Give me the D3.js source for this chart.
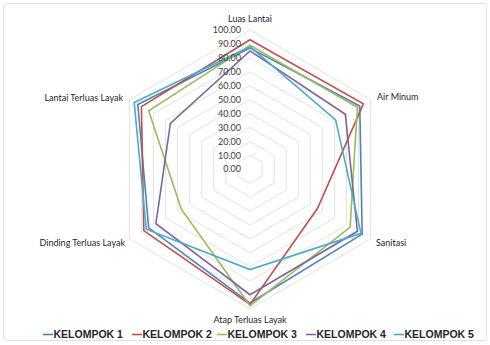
<!DOCTYPE html>
<html>
<head>
<meta charset="utf-8">
<script src="https://cdn.jsdelivr.net/npm/d3@7"></script>
<style>
  html, body { margin: 0; padding: 0; background: #fff; }
  svg { display: block; }
</style>
</head>
<body>
<div id="chart"></div>
<script>
// Radar axes, clockwise from the top
const categories = ["Luas Lantai", "Air Minum", "Sanitasi", "Atap Terluas Layak", "Dinding Terluas Layak", "Lantai Terluas Layak"];
const seriesNames = ["KELOMPOK 1", "KELOMPOK 2", "KELOMPOK 3", "KELOMPOK 4", "KELOMPOK 5"];
const kelompok1 = [87, 91, 93, 96, 84, 93];
const kelompok2 = [93, 94, 56, 97, 88, 90];
const kelompok3 = [89, 89, 83, 98, 57, 84];
const kelompok4 = [85, 79, 89, 90, 78, 66];
const kelompok5 = [88, 71, 92, 72, 86, 96];
const tickValues = [0, 10, 20, 30, 40, 50, 60, 70, 80, 90, 100];
const colors = ["#4F81BD", "#C0504D", "#9BBB59", "#8064A2", "#4BACC6"];

const allSeries = [kelompok1, kelompok2, kelompok3, kelompok4, kelompok5];

const W = 490, H = 345;
const cx = 250, cy = 169.3, R = 139.3;

const svg = d3.select("#chart").append("svg")
  .attr("width", W).attr("height", H);

// chart frame
svg.append("rect")
  .attr("x", 3.5).attr("y", 3.5)
  .attr("width", W - 7).attr("height", H - 8)
  .attr("rx", 3)
  .attr("fill", "#fff")
  .attr("stroke", "#e0e0e0");

const r = d3.scaleLinear().domain([0, 100]).range([0, R]);
const angle = d3.scalePoint().domain(categories.map((d, i) => i))
  .range([0, 2 * Math.PI * (categories.length - 1) / categories.length]);

const g = svg.append("g").attr("transform", `translate(${cx},${cy})`);

const radial = d3.lineRadial()
  .angle((d, i) => angle(i))
  .radius(d => r(d))
  .curve(d3.curveLinearClosed);

// hexagonal gridlines
g.append("g").selectAll("path")
  .data(tickValues.filter(v => v > 0))
  .join("path")
  .attr("d", v => radial(categories.map(() => v)))
  .attr("fill", "none")
  .attr("stroke", "#e3e3e3")
  .attr("stroke-width", 1);

// value axis labels
const fmt = d3.format(".2f");
svg.append("g").selectAll("text")
  .data(tickValues)
  .join("text")
  .attr("x", cx - 9)
  .attr("y", v => cy - r(v))
  .attr("dy", "0.35em")
  .attr("text-anchor", "end")
  .attr("font-family", "Lato, 'Open Sans', sans-serif")
  .attr("font-size", 9)
  .attr("fill", "#404040")
  .text(v => fmt(v));

// series
g.append("g").selectAll("path")
  .data(allSeries)
  .join("path")
  .attr("d", d => radial(d))
  .attr("fill", "none")
  .attr("stroke", (d, i) => colors[i])
  .attr("stroke-width", 1.6)
  .attr("stroke-linejoin", "miter");

// category labels
const catPos = [
  { x: 250, y: 19, anchor: "middle" },
  { x: 377, y: 97, anchor: "start" },
  { x: 376, y: 243, anchor: "start" },
  { x: 250, y: 320, anchor: "middle" },
  { x: 125, y: 243, anchor: "end" },
  { x: 123, y: 98, anchor: "end" }
];
svg.append("g").selectAll("text")
  .data(categories)
  .join("text")
  .attr("x", (d, i) => catPos[i].x)
  .attr("y", (d, i) => catPos[i].y)
  .attr("dy", "0.35em")
  .attr("text-anchor", (d, i) => catPos[i].anchor)
  .attr("font-family", "Lato, 'Open Sans', sans-serif")
  .attr("font-size", 9)
  .attr("fill", "#262626")
  .text(d => d);

// legend
const legendX = [43, 132, 217, 306, 394];
const legend = svg.append("g").selectAll("g")
  .data(seriesNames)
  .join("g")
  .attr("transform", (d, i) => `translate(${legendX[i]},334.5)`);
legend.append("line")
  .attr("x1", 0).attr("x2", 10)
  .attr("y1", 0).attr("y2", 0)
  .attr("stroke", (d, i) => colors[i])
  .attr("stroke-width", 1.6);
legend.append("text")
  .attr("x", 10.5)
  .attr("dy", "0.36em")
  .attr("font-family", "'Liberation Sans', Arial, sans-serif")
  .attr("font-weight", "bold")
  .attr("font-size", 10.5)
  .attr("fill", "#262626")
  .text(d => d);
</script>
</body>
</html>
